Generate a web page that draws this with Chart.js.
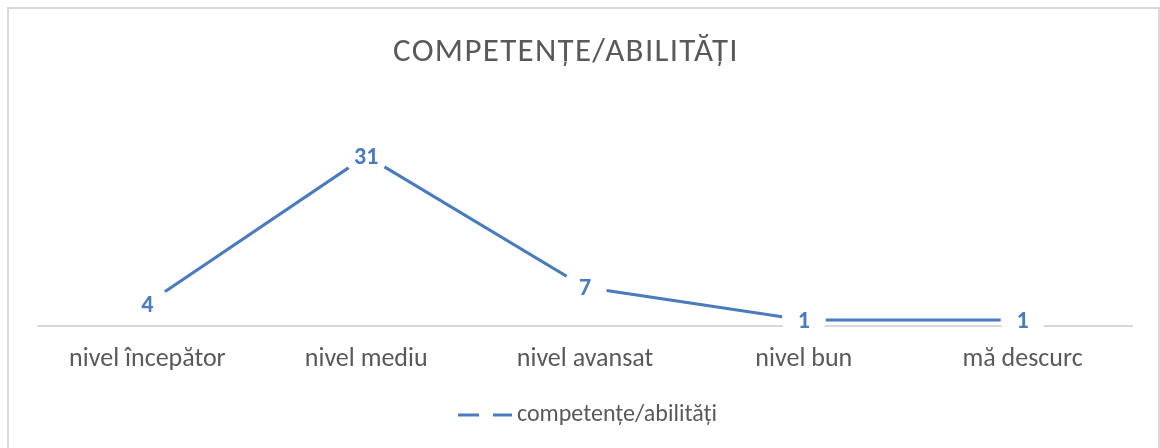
<!DOCTYPE html>
<html>
<head>
<meta charset="utf-8">
<script src="https://cdn.jsdelivr.net/npm/chart.js@4"></script>
<style>
  html, body { margin: 0; padding: 0; background: #fff; }
  #wrap { position: relative; width: 1160px; height: 448px; }
</style>
</head>
<body>
<div id="wrap"><canvas id="competenteChart"></canvas></div>
<script>
const categorii = ['nivel începător', 'nivel mediu', 'nivel avansat', 'nivel bun', 'mă descurc'];
const valori = [4, 31, 7, 1, 1];
const numeSerie = 'competențe/abilități';
const titlu = 'COMPETENȚE/ABILITĂȚI';

const albastru = '#4a7bc0';
const gri = '#595959';
const fontFamily = 'Carlito, Lato, "Open Sans", sans-serif';

// mostra din legenda: linie intrerupta, usor deplasata spre text
function mostraLegenda() {
    const c = document.createElement('canvas');
    c.width = 66;
    c.height = 4;
    const g = c.getContext('2d');
    g.strokeStyle = albastru;
    g.lineWidth = 3;
    g.setLineDash([21, 14]);
    g.beginPath();
    g.moveTo(12, 2);
    g.lineTo(66, 2);
    g.stroke();
    return c;
}
const imgLegenda = mostraLegenda();

// rama gri in jurul graficului + titlul
const ramaPlugin = {
    id: 'rama',
    beforeDraw(chart) {
        const ctx = chart.ctx;
        ctx.save();
        ctx.strokeStyle = '#d9d9d9';
        ctx.lineWidth = 2;
        ctx.strokeRect(8, 8, chart.width - 9, chart.height + 10);

        ctx.fillStyle = gri;
        ctx.font = '33px ' + fontFamily;
        ctx.letterSpacing = '1.3px';
        ctx.textAlign = 'center';
        ctx.textBaseline = 'middle';
        ctx.fillText(titlu, 566, 53);
        ctx.restore();
    }
};

// etichetele cu valori, pe fundal alb, centrate pe puncte
const eticheteValori = {
    id: 'eticheteValori',
    afterDatasetsDraw(chart) {
        const ctx = chart.ctx;
        const meta = chart.getDatasetMeta(0);
        ctx.save();
        ctx.font = 'bold 24px ' + fontFamily;
        ctx.textAlign = 'center';
        ctx.textBaseline = 'middle';
        meta.data.forEach((pt, i) => {
            ctx.fillStyle = '#ffffff';
            ctx.beginPath();
            ctx.ellipse(pt.x, pt.y, 22, 20, 0, 0, Math.PI * 2);
            ctx.fill();
            ctx.fillStyle = albastru;
            ctx.fillText(String(valori[i]), pt.x, pt.y + 2);
        });
        ctx.restore();
    }
};

const ctx = document.getElementById('competenteChart').getContext('2d');
window.competenteChart = new Chart(ctx, {
    type: 'line',
    data: {
        labels: categorii,
        datasets: [{
            label: numeSerie,
            data: valori,
            borderColor: albastru,
            backgroundColor: albastru,
            borderWidth: 3,
            pointRadius: 0,
            pointHoverRadius: 0,
            tension: 0,
            fill: false
        }]
    },
    options: {
        responsive: true,
        maintainAspectRatio: false,
        animation: false,
        layout: {
            padding: { left: 38, right: 28, top: 134, bottom: 11 }
        },
        plugins: {
            title: { display: false },
            legend: {
                display: true,
                position: 'bottom',
                labels: {
                    color: gri,
                    font: { family: fontFamily, size: 24 },
                    usePointStyle: true,
                    pointStyleWidth: 52,
                    boxWidth: 52,
                    boxHeight: 10,
                    padding: 10,
                    generateLabels(chart) {
                        return chart.data.datasets.map((ds, i) => ({
                            text: ds.label,
                            datasetIndex: i,
                            pointStyle: imgLegenda,
                            strokeStyle: albastru,
                            fillStyle: albastru,
                            fontColor: gri,
                            lineWidth: 0,
                            hidden: false
                        }));
                    }
                }
            },
            tooltip: { enabled: false }
        },
        scales: {
            x: {
                offset: true,
                grid: { display: false },
                border: { display: true, color: '#d9d9d9', width: 2 },
                ticks: {
                    color: gri,
                    font: { family: fontFamily, size: 26 },
                    padding: 10,
                    maxRotation: 0,
                    autoSkip: false
                },
                afterFit(scale) {
                    scale.height += 8.3;
                }
            },
            y: {
                display: false,
                min: 0,
                max: 35
            }
        }
    },
    plugins: [ramaPlugin, eticheteValori]
});
</script>
</body>
</html>
